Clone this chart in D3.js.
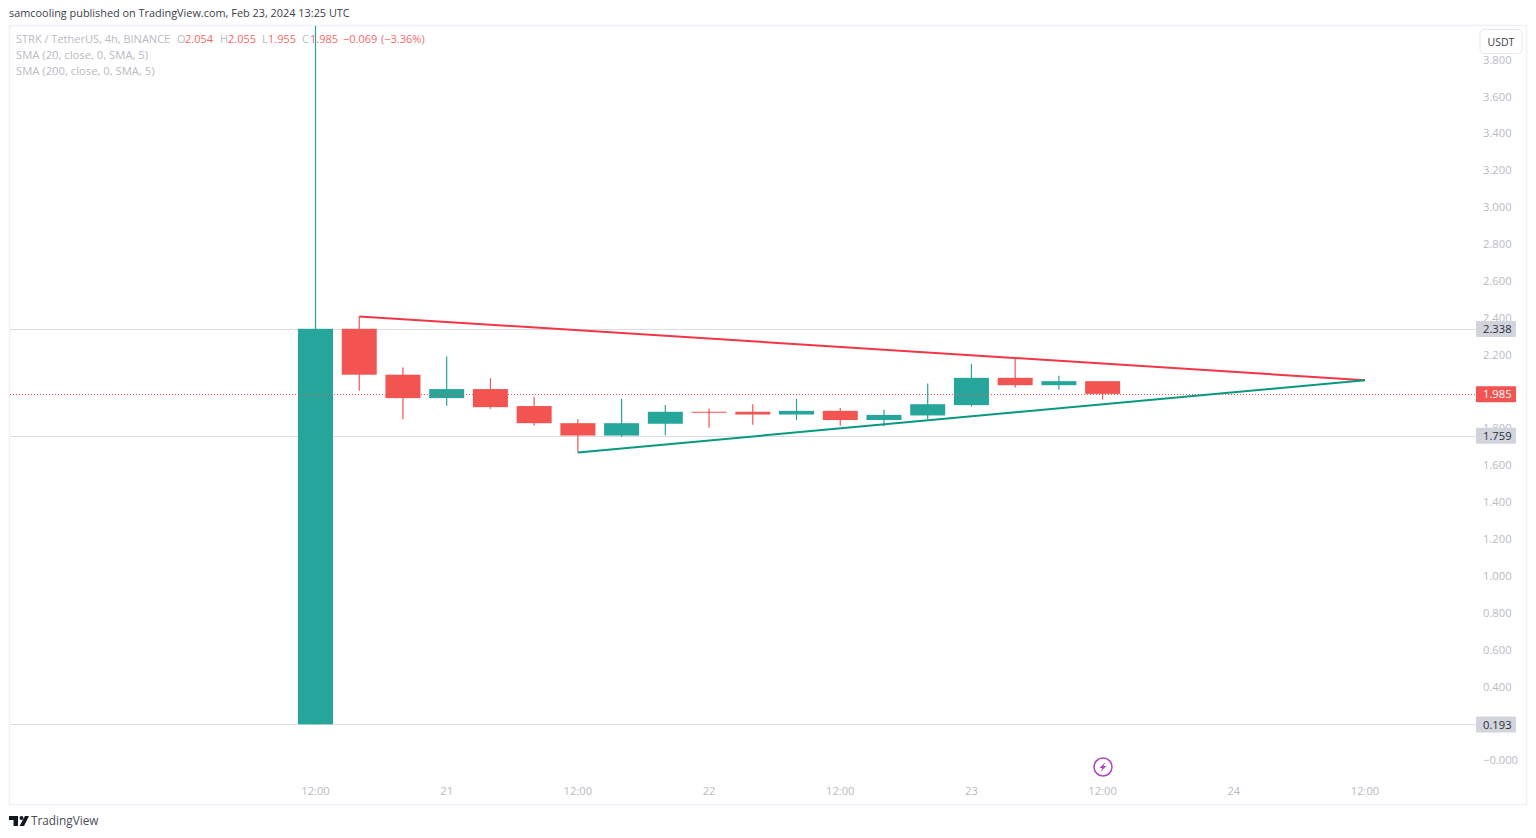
<!DOCTYPE html>
<html>
<head>
<meta charset="utf-8">
<script src="https://cdn.jsdelivr.net/npm/d3@7/dist/d3.min.js"></script>
<style>
  html, body { margin: 0; padding: 0; background: #fff; }
  svg { display: block; }
  text { font-family: "Open Sans", "Noto Sans", sans-serif; }
</style>
</head>
<body>
<svg id="chart" width="1536" height="838"></svg>
<script>
// STRK / USDT, 4h candles
const barTimes = [
  "2024-02-20T12:00Z","2024-02-20T16:00Z","2024-02-20T20:00Z","2024-02-21T00:00Z","2024-02-21T04:00Z",
  "2024-02-21T08:00Z","2024-02-21T12:00Z","2024-02-21T16:00Z","2024-02-21T20:00Z","2024-02-22T00:00Z",
  "2024-02-22T04:00Z","2024-02-22T08:00Z","2024-02-22T12:00Z","2024-02-22T16:00Z","2024-02-22T20:00Z",
  "2024-02-23T00:00Z","2024-02-23T04:00Z","2024-02-23T08:00Z","2024-02-23T12:00Z"
];
const opens  = [0.193,2.338,2.089,1.962,2.011,1.919,1.826,1.759,1.823,1.888,1.888,1.873,1.893,1.843,1.868,1.924,2.072,2.032,2.054];
const highs  = [4.200,2.405,2.128,2.188,2.070,1.969,1.848,1.958,1.924,1.904,1.929,1.958,1.909,1.899,2.041,2.148,2.179,2.083,2.055];
const lows   = [0.193,2.002,1.848,1.920,1.904,1.813,1.667,1.751,1.761,1.801,1.817,1.843,1.812,1.808,1.846,1.916,2.019,2.007,1.955];
const closes = [2.338,2.089,1.962,2.011,1.913,1.826,1.759,1.826,1.888,1.884,1.873,1.893,1.843,1.871,1.929,2.072,2.032,2.054,1.985];

// Axis content
const priceTicks = [3.8,3.6,3.4,3.2,3.0,2.8,2.6,2.4,2.2,1.8,1.6,1.4,1.2,1.0,0.8,0.6,0.4,0];
const timeTicks = ["2024-02-20T12:00Z","2024-02-21T00:00Z","2024-02-21T12:00Z","2024-02-22T00:00Z","2024-02-22T12:00Z","2024-02-23T00:00Z","2024-02-23T12:00Z","2024-02-24T00:00Z","2024-02-24T12:00Z"];

// Horizontal price levels with their axis tags
const levelPrices = [2.338, 1.759, 0.193];
const lastPrice = 1.985;

// Hand-drawn triangle around the consolidation
const resistanceLine = [["2024-02-20T16:00Z", 2.405], ["2024-02-24T12:00Z", 2.059]];
const supportLine    = [["2024-02-21T12:00Z", 1.667], ["2024-02-24T12:00Z", 2.059]];

const legendLines = ["SMA (20, close, 0, SMA, 5)", "SMA (200, close, 0, SMA, 5)"];
const legendOhlc = [
  ["STRK / TetherUS, 4h, BINANCE", 16, "muted"],
  ["O", 177, "muted"], ["2.054", 185, "down"],
  ["H", 220, "muted"], ["2.055", 228, "down"],
  ["L", 262, "muted"], ["1.955", 268, "down"],
  ["C", 302, "muted"], ["1.985", 310, "down"],
  ["\u22120.069", 343, "down"], ["(\u22123.36%)", 381, "down"]
];

const UP = "#26a69a", DOWN = "#f25451", MUTED = "#b8bbc4", GRID = "#dcdce6", FRAME = "#f0f1f8";

const svg = d3.select("#chart");
const plot = { left: 10, right: 1526, top: 26, bottom: 804, axisX: 1476 };

const x = d3.scaleUtc()
  .domain([new Date("2024-02-20T12:00Z"), new Date("2024-02-24T12:00Z")])
  .range([315.5, 1365]);
const y = d3.scaleLinear().domain([0, 3.8]).range([759.9, 59.2]);

svg.append("defs").append("clipPath").attr("id", "pane")
  .append("rect")
  .attr("x", plot.left).attr("y", plot.top)
  .attr("width", plot.right - plot.left).attr("height", plot.bottom - plot.top);

// Chart frame
svg.append("rect")
  .attr("x", plot.left - 0.5).attr("y", plot.top - 0.5)
  .attr("width", plot.right - plot.left + 1).attr("height", plot.bottom - plot.top + 1)
  .attr("fill", "#fff").attr("stroke", FRAME).attr("stroke-width", 1.5);

// Price scale
const yAxis = d3.axisRight(y).tickValues(priceTicks).tickSize(0).tickPadding(0)
  .tickFormat(d => d === 0 ? "\u22120.000" : d.toFixed(3));
svg.append("g").attr("transform", `translate(1483,0)`).call(yAxis)
  .call(g => g.select(".domain").remove())
  .call(g => g.selectAll("text").attr("fill", MUTED).attr("font-size", 11.2)
    .style("font-family", '"Open Sans", sans-serif').attr("dy", "0.35em"));

// Time scale
const xAxis = d3.axisBottom(x).tickValues(timeTicks.map(d => new Date(d))).tickSize(0).tickPadding(0)
  .tickFormat(d => d.getUTCHours() === 12 ? "12:00" : String(d.getUTCDate()));
svg.append("g").attr("transform", `translate(-0.5,787)`).call(xAxis)
  .call(g => g.select(".domain").remove())
  .call(g => g.selectAll("text").attr("fill", MUTED).attr("font-size", 11.2)
    .style("font-family", '"Open Sans", sans-serif'));

const pane = svg.append("g").attr("clip-path", "url(#pane)");

// Level lines
pane.selectAll("line.level").data(levelPrices).join("line")
  .attr("class", "level")
  .attr("x1", plot.left).attr("x2", plot.axisX)
  .attr("y1", d => Math.round(y(d)) + 0.5).attr("y2", d => Math.round(y(d)) + 0.5)
  .attr("stroke", GRID).attr("stroke-width", 1);

// Candles
const bars = barTimes.map((t, i) => ({ t: new Date(t), o: opens[i], h: highs[i], l: lows[i], c: closes[i] }));
const bodyWidth = 35;
const colour = d => d.c >= d.o ? UP : DOWN;
const candle = pane.selectAll("g.candle").data(bars).join("g").attr("class", "candle");
candle.append("line")
  .attr("x1", d => x(d.t)).attr("x2", d => x(d.t))
  .attr("y1", d => y(d.h)).attr("y2", d => y(d.l))
  .attr("stroke", colour).attr("stroke-width", 1.2);
candle.append("rect")
  .attr("x", d => x(d.t) - bodyWidth / 2).attr("width", bodyWidth)
  .attr("y", d => y(Math.max(d.o, d.c)))
  .attr("height", d => Math.max(1, Math.abs(y(d.o) - y(d.c))))
  .attr("fill", colour);

// Last price line
pane.append("line")
  .attr("x1", plot.left).attr("x2", plot.axisX)
  .attr("y1", Math.round(y(lastPrice)) + 0.5).attr("y2", Math.round(y(lastPrice)) + 0.5)
  .attr("stroke", "#f0525a").attr("stroke-width", 1).attr("stroke-dasharray", "1 2");

// Trend lines
const trend = d3.line().x(d => x(new Date(d[0]))).y(d => y(d[1]));
pane.append("path").attr("d", trend(resistanceLine)).attr("fill", "none").attr("stroke", "#f23645").attr("stroke-width", 2);
pane.append("path").attr("d", trend(supportLine)).attr("fill", "none").attr("stroke", "#089981").attr("stroke-width", 2);

// Axis tags
function priceTag(value, fill, textFill) {
  const cy = y(value) + 0.3;
  const g = svg.append("g");
  g.append("rect").attr("x", 1476).attr("y", cy - 8).attr("width", 40).attr("height", 16).attr("rx", 1).attr("fill", fill);
  g.append("text").attr("x", 1483).attr("y", cy).attr("dy", "0.36em")
    .attr("font-size", 11.2).attr("fill", textFill).text(value.toFixed(3));
}
levelPrices.forEach(v => priceTag(v, "#d1d4dc", "#2a2e39"));
priceTag(lastPrice, "#f25451", "#ffffff");

// Currency button
svg.append("rect").attr("x", 1480).attr("y", 29.5).attr("width", 42).attr("height", 24).attr("rx", 4)
  .attr("fill", "#fff").attr("stroke", "#e6e8f0");
svg.append("text").attr("x", 1501).attr("y", 42).attr("dy", "0.35em").attr("text-anchor", "middle")
  .attr("font-size", 10.5).attr("fill", "#3a3e49").text("USDT");

// Header and legend
svg.append("text").attr("x", 9).attr("y", 14).attr("dy", "0.3em").attr("font-size", 10.9).attr("fill", "#3a3e49")
  .text("samcooling published on TradingView.com, Feb 23, 2024 13:25 UTC");
svg.selectAll("text.ohlc").data(legendOhlc).join("text").attr("class", "ohlc")
  .attr("x", d => d[1]).attr("y", 39).attr("dy", "0.35em").attr("font-size", 11)
  .attr("fill", d => d[2] === "down" ? "#f7686a" : MUTED).text(d => d[0]);
svg.selectAll("text.study").data(legendLines).join("text").attr("class", "study")
  .attr("x", 16).attr("y", (d, i) => 55 + i * 16).attr("dy", "0.35em").attr("font-size", 11.25)
  .attr("fill", MUTED).text(d => d);

// Ideas marker on the time scale
const marker = svg.append("g").attr("transform", "translate(1103,767)");
marker.append("circle").attr("r", 9).attr("fill", "#fff").attr("stroke", "#ab47bc").attr("stroke-width", 1.5);
marker.append("path").attr("d", "M2.5,-5 L-3.5,1 L-0.5,1 L-2.5,5 L3.5,-1 L0.5,-1 Z").attr("fill", "#ab47bc");

// Footer brand
const brand = svg.append("g").attr("transform", "translate(9,816)");
brand.append("path").attr("d", "M0,0 H9 V10 H4.5 V4 H0 Z M10.5,10 L16,0 H20 L15,10 Z").attr("fill", "#131722");
brand.append("circle").attr("cx", 12.5).attr("cy", 2).attr("r", 2).attr("fill", "#131722");
svg.append("text").attr("x", 31).attr("y", 821).attr("dy", "0.35em").attr("font-size", 11.8).attr("fill", "#4a4e59").text("TradingView");
</script>
</body>
</html>
